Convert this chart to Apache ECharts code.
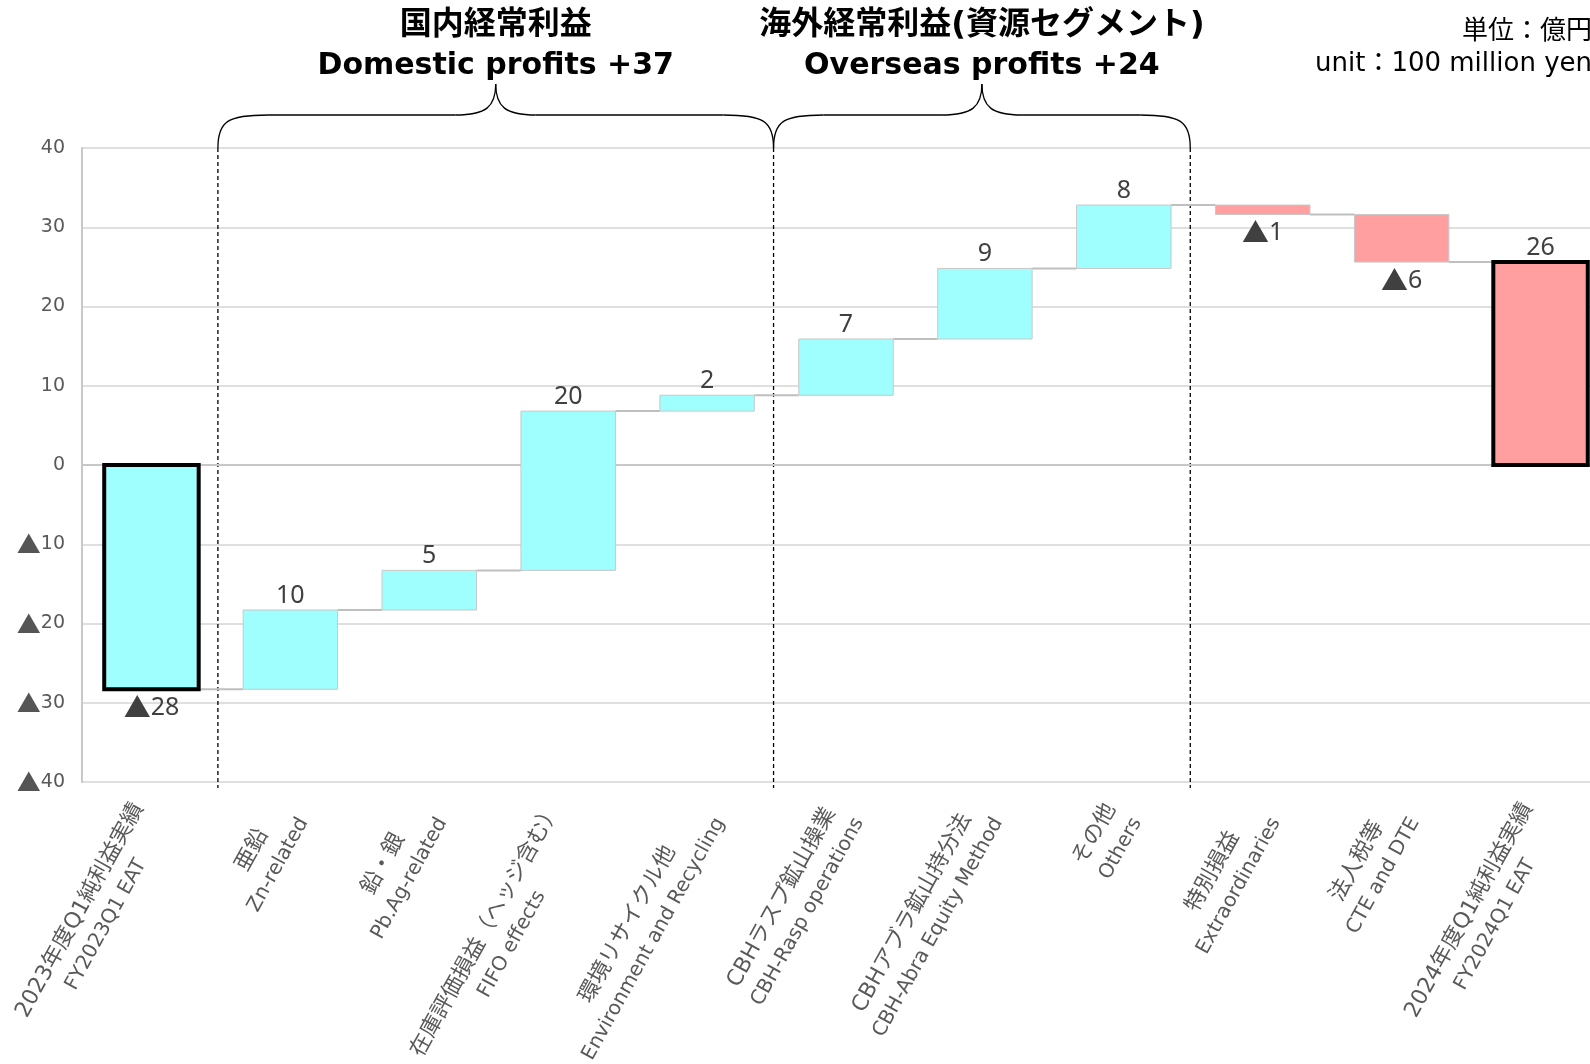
<!DOCTYPE html>
<html>
<head>
<meta charset="utf-8">
<script src="https://cdn.jsdelivr.net/npm/echarts/dist/echarts.min.js"></script>
<style>
  html, body { margin: 0; padding: 0; background: #fff; }
  #chart { width: 1590px; height: 1064px; }
</style>
</head>
<body>
<div id="chart"></div>
<script>
// categories: two lines each (Japanese / English)
const categories = [
  "2023年度Q1純利益実績\nFY2023Q1 EAT",
  "亜鉛\nZn-related",
  "鉛・銀\nPb.Ag-related",
  "在庫評価損益（ヘッジ含む）\nFIFO effects",
  "環境リサイクル他\nEnvironment and Recycling",
  "CBHラスプ鉱山操業\nCBH-Rasp operations",
  "CBHアブラ鉱山持分法\nCBH-Abra Equity Method",
  "その他\nOthers",
  "特別損益\nExtraordinaries",
  "法人税等\nCTE and DTE",
  "2024年度Q1純利益実績\nFY2024Q1 EAT",
];
// change per step (100 million yen); first and last are totals
const deltas = [-28.3, 10.0, 5.0, 20.1, 2.0, 7.1, 8.9, 8.0, -1.2, -6.0, 25.6];
const isTotal = [true, false, false, false, false, false, false, false, false, false, true];
const groups = ["start", "domestic", "domestic", "domestic", "domestic",
  "overseas", "overseas", "overseas", "other", "other", "end"];
const groupTitles = {
  domestic: ["国内経常利益", "Domestic profits +37"],
  overseas: ["海外経常利益(資源セグメント)", "Overseas profits +24"],
};
const yTicks = [-40, -30, -20, -10, 0, 10, 20, 30, 40];
const unitText = ["単位：億円", "unit：100 million yen"];

const CYAN = "#9fffff";
const PINK = "#ff9f9f";
const groupColor = { start: CYAN, domestic: CYAN, overseas: CYAN, other: PINK, end: PINK };

// waterfall start/end for every bar
var bars = [];
var run = 0;
for (var i = 0; i < deltas.length; i++) {
  var s, e;
  if (isTotal[i]) {
    s = 0;
    e = deltas[i];
  } else {
    s = run;
    e = run + deltas[i];
  }
  run = e;
  bars.push([i, s, e]);
}

function fmt(v) {
  var n = Math.round(Math.abs(v));
  return v < 0 ? "{t|▲}" + n : "" + n;
}

const labelRich = {
  t: { fontFamily: "Noto Sans CJK JP", fontSize: 27, fill: "#404040" },
};

function renderItem(params, api) {
  var i = api.value(0);
  var s = api.value(1);
  var e = api.value(2);
  var band = api.size([1, 0])[0];
  var w = band * 0.68;
  var pTop = api.coord([i, Math.max(s, e)]);
  var pBot = api.coord([i, Math.min(s, e)]);
  var x = pTop[0];
  var total = isTotal[i];
  var children = [];
  if (i < bars.length - 1) {
    var pEnd = api.coord([i, e]);
    children.push({
      type: "line",
      shape: { x1: x + w / 2, y1: pEnd[1], x2: x + band - w / 2, y2: pEnd[1] },
      style: { stroke: "#bfbfbf", lineWidth: 2 },
    });
  }
  children.push({
    type: "rect",
    shape: { x: x - w / 2, y: pTop[1], width: w, height: pBot[1] - pTop[1] },
    style: {
      fill: groupColor[groups[i]],
      stroke: total ? "#000" : "#c8c8c8",
      lineWidth: total ? 4 : 1,
    },
  });
  var up = e - s > 0;
  children.push({
    type: "text",
    x: x,
    y: up ? pTop[1] - 2 : pBot[1] + 5,
    style: {
      text: fmt(total ? e : e - s),
      rich: labelRich,
      fontFamily: "Noto Sans",
      fontSize: 25,
      fill: "#404040",
      align: "center",
      verticalAlign: up ? "bottom" : "top",
    },
  });
  return { type: "group", children: children };
}

var chartDom = document.getElementById("chart");
var myChart = echarts.init(chartDom);
var option = {
  backgroundColor: "#fff",
  animation: false,
  grid: {
    left: 82,
    right: -20,
    top: 148,
    bottom: 282,
    outerBoundsMode: "none",
    containLabel: false,
  },
  xAxis: {
    type: "category",
    data: categories,
    axisTick: { show: false },
    axisLine: { lineStyle: { color: "#c8c8c8", width: 2 } },
    axisLabel: {
      interval: 0,
      rotate: 61,
      margin: 30,
      formatter: function(v) {
        var lines = v.split("\n");
        return "{j|" + lines[0] + "}\n{e|" + lines[1] + "}";
      },
      rich: {
        j: {
          align: "center",
          fontFamily: "DejaVu Sans, Noto Sans CJK JP",
          fontSize: 22,
          lineHeight: 30,
          color: "#595959",
        },
        e: {
          align: "center",
          fontFamily: "DejaVu Sans, Noto Sans CJK JP",
          fontSize: 20,
          lineHeight: 29,
          color: "#595959",
        },
      },
    },
  },
  yAxis: {
    type: "value",
    min: yTicks[0],
    max: yTicks[yTicks.length - 1],
    interval: 10,
    axisLine: { show: true, lineStyle: { color: "#c8c8c8", width: 2 } },
    splitLine: { lineStyle: { color: "#d4d4d4", width: 1.5 } },
    axisLabel: {
      margin: 17,
      color: "#595959",
      fontFamily: "DejaVu Sans",
      fontSize: 19,
      formatter: function(v) {
        return v < 0 ? "{t|▲}" + -v : "" + v;
      },
      rich: {
        t: { fontFamily: "Noto Sans CJK JP", fontSize: 24, color: "#555" },
      },
    },
  },
  series: [
    {
      type: "custom",
      renderItem: renderItem,
      clip: false,
      encode: { x: 0, y: [1, 2] },
      data: bars,
    },
  ],
};
myChart.setOption(option);

// annotations: dashed separators, braces, group titles, unit
function xPix(i) {
  return myChart.convertToPixel({ xAxisIndex: 0 }, i);
}
function yPix(v) {
  return myChart.convertToPixel({ yAxisIndex: 0 }, v);
}
function boundary(k) {
  // separator between category k and k + 1
  return (xPix(k) + xPix(k + 1)) / 2 - 3;
}
var plotTop = yPix(yTicks[yTicks.length - 1]);
var plotBot = yPix(yTicks[0]);
var elements = [];
var braceStyle = { stroke: "#000", fill: null, lineWidth: 1.3 };

function curve(x1, y1, c1x, c1y, c2x, c2y, x2, y2) {
  elements.push({
    type: "bezierCurve",
    shape: { x1: x1, y1: y1, cpx1: c1x, cpy1: c1y, cpx2: c2x, cpy2: c2y, x2: x2, y2: y2 },
    style: braceStyle,
  });
}
function seg(x1, y1, x2, y2) {
  elements.push({
    type: "line",
    shape: { x1: x1, y1: y1, x2: x2, y2: y2 },
    style: braceStyle,
  });
}

var spans = {};
groups.forEach(function(g, i) {
  if (!groupTitles[g]) return;
  if (!spans[g]) spans[g] = [i, i];
  spans[g][1] = i;
});

var boundaries = {};
Object.keys(spans).forEach(function(g) {
  var a = spans[g][0], b = spans[g][1];
  boundaries[a - 1] = true;
  boundaries[b] = true;
  var x0 = boundary(a - 1);
  var x1 = boundary(b);
  var mid = (x0 + x1) / 2;
  var yb = plotTop, yh = plotTop - 33, yp = plotTop - 64;
  curve(x0, yb, x0, yh + 6, x0 + 10, yh, x0 + 50, yh);
  seg(x0 + 50, yh, mid - 40, yh);
  curve(mid - 40, yh, mid - 10, yh, mid, yh - 8, mid, yp);
  curve(mid, yp, mid, yh - 8, mid + 10, yh, mid + 40, yh);
  seg(mid + 40, yh, x1 - 50, yh);
  curve(x1 - 50, yh, x1 - 10, yh, x1, yh + 6, x1, yb);
  elements.push({
    type: "text",
    style: {
      text: groupTitles[g][0],
      x: mid,
      y: 26,
      align: "center",
      verticalAlign: "middle",
      fontFamily: "DejaVu Sans, Noto Sans CJK JP",
      fontWeight: "bold",
      fontSize: 32,
      fill: "#000",
    },
  });
  elements.push({
    type: "text",
    style: {
      text: groupTitles[g][1],
      x: mid,
      y: 66,
      align: "center",
      verticalAlign: "middle",
      fontFamily: "DejaVu Sans, Noto Sans CJK JP",
      fontWeight: "bold",
      fontSize: 30,
      fill: "#000",
    },
  });
});

Object.keys(boundaries).forEach(function(k) {
  var bx = boundary(+k);
  elements.push({
    type: "line",
    shape: { x1: bx, y1: plotTop, x2: bx, y2: plotBot + 6 },
    style: { stroke: "#000", lineWidth: 1.3, lineDash: [4, 3] },
  });
});

unitText.forEach(function(t, k) {
  elements.push({
    type: "text",
    style: {
      text: t,
      x: 1592,
      y: k === 0 ? 32 : 64,
      align: "right",
      verticalAlign: "middle",
      fontFamily: "DejaVu Sans, Noto Sans CJK JP",
      fontSize: 26,
      fill: "#000",
    },
  });
});

myChart.setOption({ graphic: { elements: elements } });

window.addEventListener("resize", function() {
  myChart.resize();
});
</script>
</body>
</html>
